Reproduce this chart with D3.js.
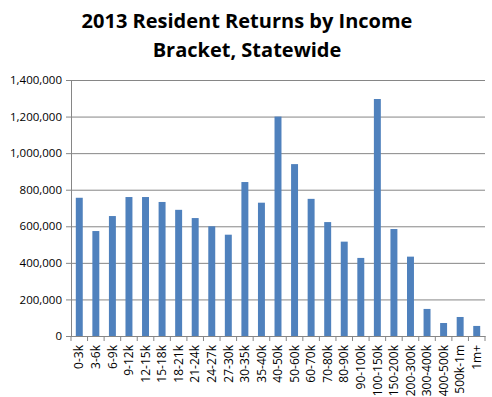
<!DOCTYPE html>
<html>
<head>
<meta charset="utf-8">
<script src="https://cdn.jsdelivr.net/npm/d3@7"></script>
<style>
  body { margin: 0; background: #fff; }
  text { font-family: "Open Sans", sans-serif; }
</style>
</head>
<body>
<div id="chart"></div>
<script>
const width = 492;
const height = 397;

const titleLines = ["2013 Resident Returns by Income", "Bracket, Statewide"];

const brackets = ["0-3k", "3-6k", "6-9k", "9-12k", "12-15k", "15-18k", "18-21k", "21-24k",
  "24-27k", "27-30k", "30-35k", "35-40k", "40-50k", "50-60k", "60-70k", "70-80k",
  "80-90k", "90-100k", "100-150k", "150-200k", "200-300k", "300-400k", "400-500k",
  "500k-1m", "1m+"];

const returns = [756000, 574000, 656000, 760000, 760000, 733000, 690000, 645000,
  600000, 554000, 842000, 729000, 1200000, 940000, 750000, 623000,
  516000, 427000, 1296000, 585000, 434000, 148000, 71000,
  104000, 55000];

const yTicks = [0, 200000, 400000, 600000, 800000, 1000000, 1200000, 1400000];

const plotLeft = 71, plotRight = 485, plotTop = 80, plotBottom = 336;
const gray = "#868686";

const svg = d3.select("#chart")
  .append("svg")
  .attr("width", width)
  .attr("height", height);

svg.append("text")
  .attr("x", 247)
  .attr("text-anchor", "middle")
  .attr("font-size", 20)
  .attr("font-weight", "bold")
  .selectAll("tspan")
  .data(titleLines)
  .enter()
  .append("tspan")
  .attr("x", 247)
  .attr("y", (d, i) => 28 + i * 29)
  .text(d => d);

const xScale = d3.scaleBand()
  .domain(brackets)
  .range([plotLeft, plotRight])
  .paddingInner(0.58)
  .paddingOuter(0.29);

const yScale = d3.scaleLinear()
  .domain([0, 1400000])
  .range([plotBottom, plotTop]);

// gridlines
svg.append("g")
  .attr("transform", `translate(${plotLeft}, 0)`)
  .call(d3.axisLeft(yScale).tickValues(yTicks).tickSize(-(plotRight - plotLeft)).tickFormat(""))
  .call(g => g.select(".domain").remove())
  .call(g => g.selectAll("line").attr("stroke", gray));

// y axis
svg.append("g")
  .attr("id", "y-axis")
  .attr("transform", `translate(${plotLeft}, 0)`)
  .call(d3.axisLeft(yScale).tickValues(yTicks).tickSize(5).tickSizeOuter(0).tickPadding(4).tickFormat(d3.format(",")))
  .call(g => g.select(".domain").attr("stroke", gray))
  .call(g => g.selectAll("line").attr("stroke", gray))
  .call(g => g.selectAll("text").attr("font-size", 11.5).attr("fill", "#000").style("font-family", "'Open Sans', sans-serif"));

// bars
svg.selectAll(".bar")
  .data(returns)
  .enter()
  .append("rect")
  .attr("class", "bar")
  .attr("x", (d, i) => xScale(brackets[i]))
  .attr("y", d => yScale(d))
  .attr("width", xScale.bandwidth())
  .attr("height", d => plotBottom - yScale(d))
  .attr("fill", "#4f81bd");

// x axis
const step = xScale.step();
svg.append("g")
  .attr("id", "x-axis")
  .attr("transform", `translate(0, ${plotBottom})`)
  .call(d3.axisBottom(xScale).tickSize(0).tickSizeOuter(0).tickPadding(0))
  .call(g => g.select(".domain").attr("stroke", gray))
  .call(g => g.selectAll("text")
    .attr("font-size", 12)
    .attr("fill", "#000")
    .style("font-family", "'Open Sans', sans-serif")
    .attr("text-anchor", "end")
    .attr("dy", "0.35em")
    .attr("transform", "translate(0, 9) rotate(-90)"))
  .call(g => g.selectAll(".boundary")
    .data(d3.range(brackets.length + 1))
    .enter()
    .append("line")
    .attr("class", "boundary")
    .attr("x1", i => plotLeft + i * step)
    .attr("x2", i => plotLeft + i * step)
    .attr("y1", 0)
    .attr("y2", 5)
    .attr("stroke", gray));
</script>
</body>
</html>
